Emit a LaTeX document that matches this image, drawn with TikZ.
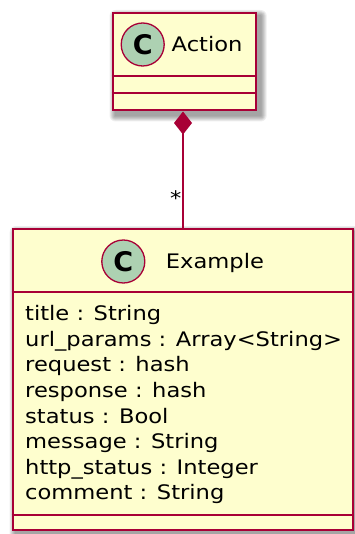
\documentclass[tikz,border=0pt]{standalone}
\usepackage{fontspec}
\newfontfamily\umlfont[FakeStretch=1.13]{DejaVu Sans}
\newfontfamily\spotfont{DejaVu Sans}
\usetikzlibrary{arrows.meta,backgrounds}
\definecolor{umlborder}{HTML}{A80036}
\definecolor{umlfill}{HTML}{FEFECE}
\definecolor{umlspot}{HTML}{ADD1B2}
\tikzset{
  classbox/.style={draw=umlborder, fill=umlfill, line width=2pt, inner sep=0pt},
  spot/.style={circle, draw=umlborder, fill=umlspot, line width=1.3pt, minimum size=43pt, inner sep=0pt,
    font=\fontsize{27}{27}\spotfont\bfseries},
  umltext/.style={anchor=base west, inner sep=0pt, font=\fontsize{20}{24}\umlfont},
  sepline/.style={draw=umlborder, line width=2pt},
  composition/.style={draw=umlborder, line width=1.5pt, {Diamond[length=23pt,width=18pt]}-},
}
\begin{document}
\begin{tikzpicture}[x=1pt, y=-1pt]
\useasboundingbox (0,0) rectangle (355,534);

% class boxes
\node[classbox, minimum width=143.2pt, minimum height=97.5pt] (action) at (184.1,61.75) {};
\node[classbox, minimum width=340.6pt, minimum height=300.8pt] (example) at (183,379.4) {};

% soft drop shadows behind both boxes
\begin{scope}[on background layer]
  \foreach \b in {action, example}
    \foreach \r in {6,5,4,3,2,1}
      \fill[black, opacity=0.07, rounded corners=\r pt]
        ([shift={(4-\r,4-\r)}]\b.north west) rectangle ([shift={(4+\r,4+\r)}]\b.south east);
\end{scope}

% Action: header, empty field and method compartments
\draw[sepline] (action.west |- 0,76.5) -- (action.east |- 0,76.5);
\draw[sepline] (action.west |- 0,93.5) -- (action.east |- 0,93.5);
\node[spot] (actionspot) at (142.7,44.5) {C};
\node[umltext] (actionname) at (171.5,52) {Action};

% Example: header, attributes, empty method compartment
\draw[sepline] (example.west |- 0,292.3) -- (example.east |- 0,292.3);
\draw[sepline] (example.west |- 0,515) -- (example.east |- 0,515);
\node[spot] (examplespot) at (123.3,261.5) {C};
\node[umltext] (examplename) at (165.7,268.3) {Example};

\foreach \t [count=\i from 0] in {
  title : String,
  url\_params : Array<String>,
  request : hash,
  response : hash,
  status : Bool,
  message : String,
  http\_status : Integer,
  comment : String}
  \node[umltext] (attr\i) at (25,320.7+25.6*\i) {\t};

% composition: Action owns many Example
\draw[composition] (action.south -| example.north) -- (example.north);
\node[umltext, anchor=base east] (mult) at (181.5,206) {*};
\end{tikzpicture}
\end{document}
